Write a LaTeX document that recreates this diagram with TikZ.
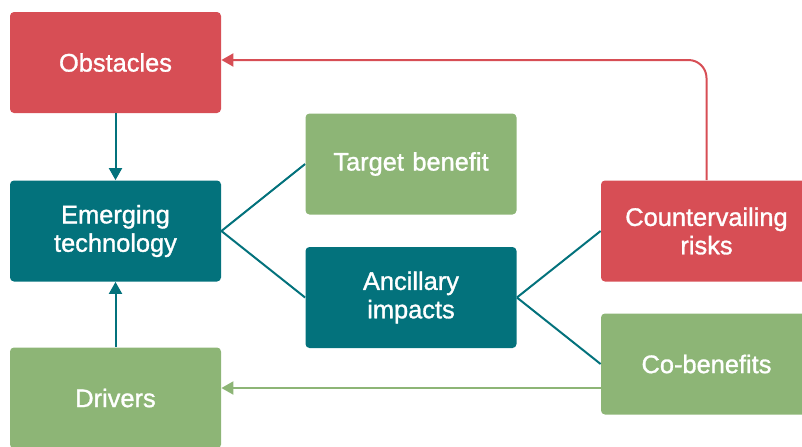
\documentclass[tikz,border=0pt]{standalone}
\usepackage{fontspec}
\newfontfamily\boxfont[FakeBold=1.2]{Liberation Sans}
\usepackage{tikz}
\usetikzlibrary{arrows.meta,calc}
\usepackage{xcolor}
\definecolor{box-red}{RGB}{215,78,85}
\definecolor{box-teal}{RGB}{3,114,124}
\definecolor{box-green}{RGB}{141,181,118}
\tikzstyle{cbox}=[rounded corners=2pt, minimum width=105.5pt, minimum height=50.5pt, text width=100pt, align=center, inner sep=0pt, text=white, font=\boxfont\fontsize{12.7}{14.2}\selectfont]
\tikzstyle{red-box}=[cbox, fill=box-red]
\tikzstyle{teal-box}=[cbox, fill=box-teal]
\tikzstyle{green-box}=[cbox, fill=box-green]
\tikzstyle{link}=[line width=1pt]
\tikzstyle{tip}=[-{Triangle[length=6pt,width=6.5pt]}]

\begin{document}
\begin{tikzpicture}[x=0.5pt,y=-0.5pt]
	\clip (0,0) rectangle (802,446);
	\node[red-box] (obst) at (115.5,62.5) {Obstacles};
	\node[teal-box] (emerg) at (115.5,231) {Emerging\\technology};
	\node[green-box] (driv) at (115.5,398) {Drivers};
	\node[green-box] (target) at (411,164) {Target benefit};
	\node[teal-box] (ancil) at (411,297.5) {Ancillary\\impacts};
	\node[red-box] (counter) at (706.5,231) {Countervailing\\risks};
	\node[green-box] (cobenef) at (706.5,364) {Co-benefits};
	\draw[link,tip,box-teal] (obst) -- (emerg);
	\draw[link,tip,box-teal] (driv) -- (emerg);
	\draw[link,box-teal] (emerg.east) -- (target.west);
	\draw[link,box-teal] (emerg.east) -- (ancil.west);
	\draw[link,box-teal] (ancil.east) -- (counter.west);
	\draw[link,box-teal] (ancil.east) -- (cobenef.west);
	\coordinate (redout) at ($(obst.east)+(0,-2.5)$);
	\draw[link,tip,box-red,rounded corners=9pt] (counter.north) |- (redout);
	\coordinate (greenout) at ($(cobenef.west)+(0,24)$);
	\draw[link,tip,box-green] (greenout) -- (greenout -| driv.east);
\end{tikzpicture}
\end{document}
